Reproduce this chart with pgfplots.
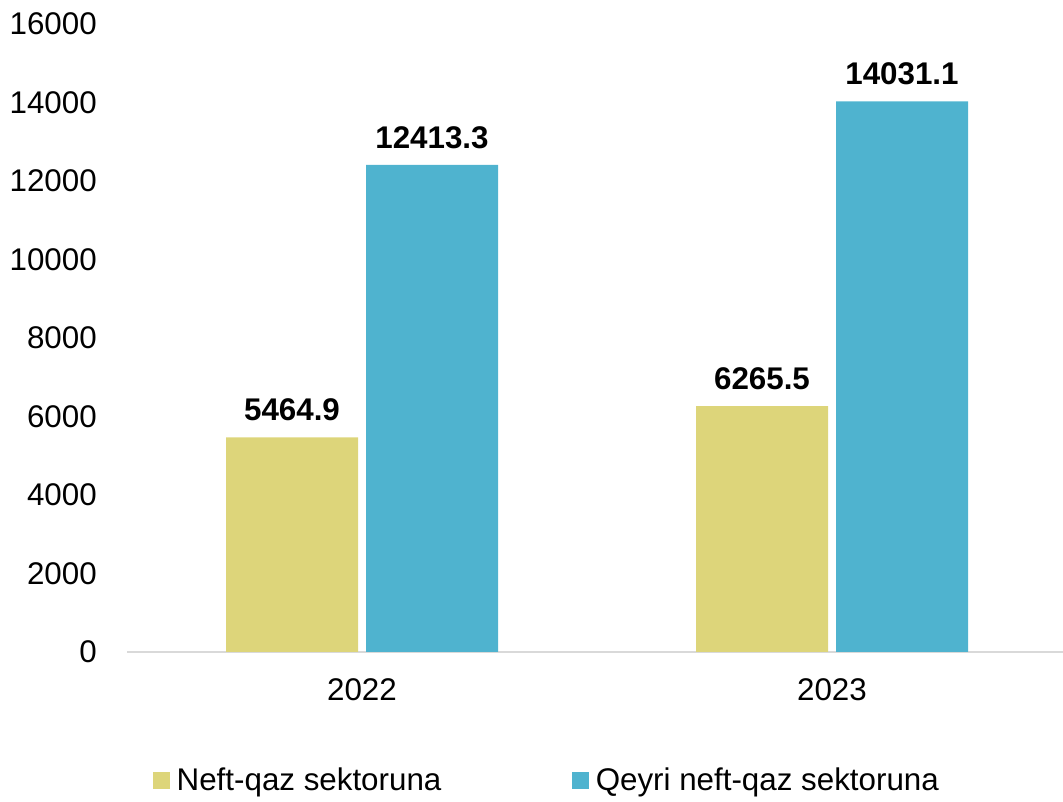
\documentclass[border=0pt]{standalone}
\usepackage{fontspec}
\setmainfont{Liberation Sans}
\usepackage{pgfplots}
\pgfplotsset{compat=1.18}

\definecolor{oilmain}{HTML}{DDD57A}
\definecolor{nonmain}{HTML}{4FB3CF}
\definecolor{axisgray}{HTML}{D9D9D9}

\begin{document}
\begin{tikzpicture}
\useasboundingbox (0,0) rectangle (797.25pt,601.5pt);
\begin{axis}[
  at={(95.25pt,112.5pt)}, anchor=south west,
  scale only axis, width=702pt, height=471pt,
  ybar=6pt, bar width=99pt,
  xmin=-0.5, xmax=1.4915, ymin=0, ymax=16000,
  xtick={0,1}, xticklabels={2022,2023},
  ytick distance=2000, scaled y ticks=false,
  /pgf/number format/1000 sep={},
  /pgf/number format/assume math mode=true,
  axis x line=bottom, axis y line=left,
  x axis line style={draw=axisgray, line width=1pt, -},
  y axis line style={draw=none},
  major tick length=0pt,
  tick label style={font=\fontsize{23.5}{27}\selectfont, inner sep=0pt},
  yticklabel style={anchor=east, xshift=-22.5pt},
  xticklabel style={anchor=north, yshift=-20pt},
  point meta=explicit symbolic,
  nodes near coords,
  every node near coord/.append style={font=\fontsize{23.5}{27}\selectfont\bfseries, inner sep=0pt, anchor=south, yshift=12pt},
  legend columns=2,
  legend style={draw=none, fill=none, at={(0.449,-0.204)}, anchor=center,
    font=\fontsize{23.5}{27}\selectfont,
    /tikz/every odd column/.append style={column sep=3pt},
    /tikz/every even column/.append style={column sep=96pt}},
  legend image code/.code={\fill[#1, draw=none] (0pt,-6.4pt) rectangle (12.75pt,6.4pt);},
]
\addplot[draw=none, fill=oilmain] coordinates {(0,5464.9)[5464.9] (1,6265.5)[6265.5]};
\addplot[draw=none, fill=nonmain] coordinates {(0,12413.3)[12413.3] (1,14031.1)[14031.1]};
\legend{Neft-qaz sektoruna, Qeyri neft-qaz sektoruna}
\end{axis}
\end{tikzpicture}
\end{document}
